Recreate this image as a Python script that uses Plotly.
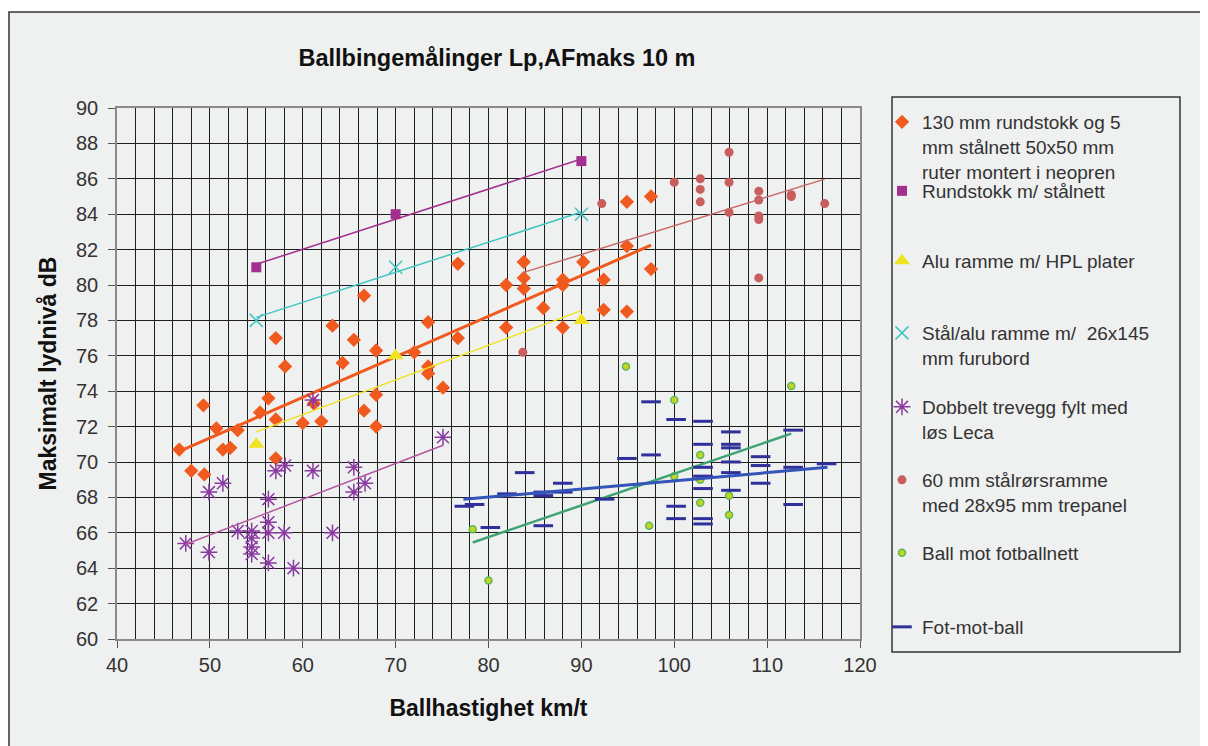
import plotly.graph_objects as go

# ---------------- data ----------------
s1_name = "130 mm rundstokk og 5<br>mm stålnett 50x50 mm<br>ruter montert i neopren"
s1_x = [66.6, 63.2, 57.1, 65.5, 67.9, 64.3, 58.1, 94.9, 97.5, 94.9, 76.7, 83.8, 90.2, 97.5, 83.8,
        81.9, 83.8, 88.0, 88.0, 92.4, 85.9, 92.4, 94.9, 81.9, 88.0, 73.5, 76.7, 72.0, 73.5, 73.5,
        75.1, 49.3, 56.3, 61.2, 67.9, 66.6, 67.9, 55.4, 50.7, 53.0, 57.1, 60.0, 62.0, 46.7, 51.4,
        52.2, 57.1, 48.0, 49.4]
s1_y = [79.4, 77.7, 77.0, 76.9, 76.3, 75.6, 75.4, 84.7, 85.0, 82.2, 81.2, 81.3, 81.3, 80.9, 80.4,
        80.0, 79.8, 80.3, 80.0, 80.3, 78.7, 78.6, 78.5, 77.6, 77.6, 77.9, 77.0, 76.2, 75.4, 75.0,
        74.2, 73.2, 73.6, 73.3, 73.8, 72.9, 72.0, 72.8, 71.9, 71.8, 72.4, 72.2, 72.3, 70.7, 70.7,
        70.8, 70.2, 69.5, 69.3]
s1_trend_x = [46.7, 97.5]
s1_trend_y = [70.6, 82.25]

s2_name = "Rundstokk m/ stålnett"
s2_x = [55, 70, 90]
s2_y = [81, 84, 87]
s2_trend_x = [55, 90]
s2_trend_y = [81.17, 87.12]

s3_name = "Alu ramme m/ HPL plater"
s3_x = [55, 70, 90]
s3_y = [71, 76, 78]
s3_trend_x = [55, 90]
s3_trend_y = [71.7, 78.55]

s4_name = "Stål/alu ramme m/  26x145<br>mm furubord"
s4_x = [55, 70, 90]
s4_y = [78, 81, 84]
s4_trend_x = [55, 90]
s4_trend_y = [78.17, 84.12]

s5_name = "Dobbelt trevegg fylt med<br>løs Leca"
s5_x = [47.4, 49.9, 49.9, 51.4, 53.0, 54.5, 54.5, 54.5, 54.5, 56.3, 56.3, 56.3, 56.3, 57.1,
        58.1, 58.0, 59.0, 61.1, 61.1, 63.2, 65.5, 65.5, 66.7, 75.1]
s5_y = [65.4, 68.3, 64.9, 68.8, 66.1, 66.1, 65.7, 65.2, 64.8, 67.9, 66.6, 66.0, 64.3, 69.5,
        69.8, 66.0, 64.0, 73.5, 69.5, 66.0, 69.7, 68.3, 68.8, 71.4]
s5_trend_x = [47.4, 75.1]
s5_trend_y = [65.35, 70.95]

s6_name = "60 mm stålrørsramme<br>med 28x95 mm trepanel"
s6_x = [92.2, 100.0, 102.8, 102.8, 102.8, 83.7, 105.9, 105.9, 105.9, 109.1, 109.1, 109.1,
        109.1, 109.1, 112.6, 112.6, 116.2]
s6_y = [84.6, 85.8, 86.0, 85.4, 84.7, 76.2, 87.5, 85.8, 84.1, 85.3, 84.8, 83.9, 83.7,
        80.4, 85.1, 85.0, 84.6]
s6_trend_x = [83.7, 116.2]
s6_trend_y = [80.7, 85.98]

s7_name = "Ball mot fotballnett"
s7_x = [94.8, 100.0, 78.3, 80.0, 97.3, 102.8, 100.0, 102.8, 102.8, 112.6, 105.9, 105.9]
s7_y = [75.4, 73.5, 66.2, 63.3, 66.4, 70.4, 69.2, 69.0, 67.7, 74.3, 68.1, 67.0]
s7_trend_x = [78.3, 112.6]
s7_trend_y = [65.45, 71.6]

s8_name = "Fot-mot-ball"
s8_x = [97.5, 100.2, 103.1, 103.1, 94.9, 97.5, 83.9, 88.0, 88.0, 82.0, 85.9, 85.9, 92.5,
        77.4, 78.5, 80.2, 85.9, 100.2, 100.2, 103.1, 103.1, 103.1, 103.1, 103.1, 106.1, 106.1,
        106.1, 106.1, 106.1, 106.1, 109.3, 109.3, 109.3, 112.8, 112.8, 112.8, 116.4]
s8_y = [73.4, 72.4, 72.3, 71.0, 70.2, 70.4, 69.4, 68.8, 68.3, 68.2, 68.3, 68.1, 67.9,
        67.5, 67.6, 66.3, 66.4, 67.5, 66.8, 69.7, 69.2, 68.5, 66.8, 66.5, 71.7, 71.0,
        70.8, 70.0, 69.4, 68.4, 70.3, 69.8, 68.8, 71.8, 69.7, 67.6, 69.9]
s8_trend_x = [77.3, 116.5]
s8_trend_y = [67.89, 69.7]

x_ticks = [40, 50, 60, 70, 80, 90, 100, 110, 120]
y_ticks = list(range(60, 91, 2))

title_text = "Ballbingemålinger Lp,AFmaks 10 m"
x_title = "Ballhastighet km/t"
y_title = "Maksimalt lydnivå dB"

# ---------------- figure ----------------
OFF = 8                      # default page margin of the html body
W, H = 1200, 738
L, R, T, B = 117 - OFF, 860 - OFF, 108 - OFF, 639 - OFF
FONT = "Liberation Sans, Arial, sans-serif"


def px2paper(px, py):
    return (px - OFF - L) / (R - L), (B - (py - OFF)) / (B - T)


def cx(px):
    return (px - OFF) / W


def cy(py):
    return 1 - (py - OFF) / H


series = [
    dict(name=s1_name, x=s1_x, y=s1_y, tx=s1_trend_x, ty=s1_trend_y,
         marker=dict(symbol="diamond", size=11, color="#f05a1e"),
         line=dict(color="#f05a1e", width=3), ly=119),
    dict(name=s2_name, x=s2_x, y=s2_y, tx=s2_trend_x, ty=s2_trend_y,
         marker=dict(symbol="square", size=10, color="#a3308f"),
         line=dict(color="#a3308f", width=1.5), ly=188),
    dict(name=s3_name, x=s3_x, y=s3_y, tx=s3_trend_x, ty=s3_trend_y,
         marker=dict(symbol="triangle-up", size=14, color="#f0e21e"),
         line=dict(color="#f0e21e", width=1.5), ly=258),
    dict(name=s4_name, x=s4_x, y=s4_y, tx=s4_trend_x, ty=s4_trend_y,
         marker=dict(symbol="x-thin-open", size=13, color="#40c4c4", line=dict(width=1.5, color="#40c4c4")),
         line=dict(color="#40c4c4", width=1.5), ly=330),
    dict(name=s5_name, x=s5_x, y=s5_y, tx=s5_trend_x, ty=s5_trend_y,
         marker=dict(symbol="asterisk-open", size=14, color="#8a3aa0", line=dict(width=1.5, color="#8a3aa0")),
         line=dict(color="#b5579e", width=1.5), ly=404),
    dict(name=s6_name, x=s6_x, y=s6_y, tx=s6_trend_x, ty=s6_trend_y,
         marker=dict(symbol="circle", size=9, color="#c85e5e"),
         line=dict(color="#c86a6a", width=1.5), ly=477),
    dict(name=s7_name, x=s7_x, y=s7_y, tx=s7_trend_x, ty=s7_trend_y,
         marker=dict(symbol="circle", size=7, color="#c6d420", line=dict(width=1.5, color="#5cb860")),
         line=dict(color="#3fa374", width=2.5), ly=550),
    dict(name=s8_name, x=s8_x, y=s8_y, tx=s8_trend_x, ty=s8_trend_y,
         marker=dict(symbol="line-ew-open", size=14, color="#30309a", line=dict(width=3, color="#30309a")),
         line=dict(color="#3354b8", width=3), ly=624),
]

fig = go.Figure()
layout_legends = {}
for i, s in enumerate(series):
    lg = "legend" if i == 0 else f"legend{i + 1}"
    fig.add_trace(go.Scatter(x=s["x"], y=s["y"], mode="markers", name=s["name"],
                             marker=s["marker"], legend=lg))
    fig.add_trace(go.Scatter(x=s["tx"], y=s["ty"], mode="lines", line=s["line"],
                             showlegend=False, hoverinfo="skip"))
    layout_legends[lg] = dict(
        xref="container", yref="container", x=cx(882), y=cy(s["ly"] - 16),
        xanchor="left", yanchor="top", bgcolor="rgba(0,0,0,0)", borderwidth=0,
        font=dict(family=FONT, size=19, color="#333333"),
        valign="top", itemclick=False, itemdoubleclick=False,
    )

fx0, fy0 = px2paper(9, 12)
fx1, fy1 = px2paper(1240, 780)
lx0, ly0 = px2paper(892, 97)
lx1, ly1 = px2paper(1180, 652)

axis_font = dict(family=FONT, size=20, color="#333333")
title_font = dict(family=FONT, size=23, color="#111111", weight="bold")

fig.update_layout(
    width=W, height=H,
    margin=dict(l=L, r=W - R, t=T, b=H - B, autoexpand=False),
    paper_bgcolor="white",
    plot_bgcolor="#d2d2d6",
    showlegend=True,
    title=dict(text=title_text, x=cx(497), xref="container", xanchor="center",
               y=cy(58), yref="container", yanchor="middle",
               font=dict(family=FONT, size=23.5, color="#111111", weight="bold")),
    xaxis=dict(range=[40, 120], tickvals=x_ticks, showgrid=True, gridcolor="#1e1e1e", gridwidth=1,
               minor=dict(dtick=2, showgrid=True, gridcolor="#1e1e1e", gridwidth=1),
               ticks="outside", ticklen=7, tickcolor="#555555",
               showline=True, linecolor="#8a8a8a", linewidth=1.5, mirror=True, zeroline=False,
               tickfont=axis_font,
               title=dict(text=x_title, standoff=25, font=title_font)),
    yaxis=dict(range=[60, 90], tickvals=y_ticks, showgrid=True, gridcolor="#1e1e1e", gridwidth=1,
               ticks="outside", ticklen=7, tickcolor="#555555", ticklabelstandoff=6,
               showline=True, linecolor="#8a8a8a", linewidth=1.5, mirror=True, zeroline=False,
               tickfont=axis_font,
               title=dict(text=y_title, standoff=13, font=title_font)),
    shapes=[
        dict(type="rect", xref="paper", yref="paper", x0=fx0, y0=fy1, x1=fx1, y1=fy0,
             fillcolor="#eff0f0", line=dict(color="#333333", width=1.5), layer="below"),
        dict(type="rect", xref="paper", yref="paper", x0=lx0, y0=ly1, x1=lx1, y1=ly0,
             fillcolor="rgba(0,0,0,0)", line=dict(color="#333333", width=1.5), layer="below"),
    ],
    **layout_legends,
)

fig.write_html("out.html")
